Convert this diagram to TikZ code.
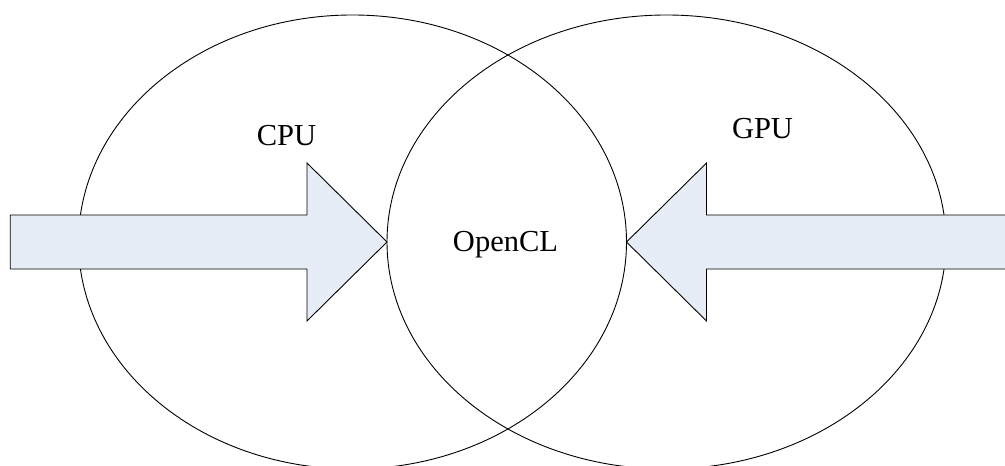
\documentclass[tikz,border=0pt]{standalone}
\usepackage{fontspec}
\setmainfont{Liberation Serif}
\usetikzlibrary{shapes.geometric}
\definecolor{arrowfill}{RGB}{230,237,247}
\begin{document}
\begin{tikzpicture}[x=1bp,y=-1bp,
  set/.style={ellipse, draw=black, line width=0.9bp, inner sep=0pt, outer sep=0pt},
  bigarrow/.style={draw=black, line width=0.9bp, fill=arrowfill, line join=miter},
  settext/.style={font=\fontsize{30.5bp}{36bp}\selectfont, anchor=base, inner sep=0pt}]
\useasboundingbox (0,0) rectangle (1005,466);
% the two overlapping sets
\node[set, minimum width=548bp, minimum height=454bp] (cpu) at (352.5,242) {};
\node[set, minimum width=559bp, minimum height=454bp] (gpu) at (666.5,242) {};
% block arrows pointing into the overlap
\draw[bigarrow] (gpu.west) -- ++(-80,-79) -- ++(0,52) -- ++(-296.7,0) -- ++(0,54)
  -- ++(296.7,0) -- ++(0,52) -- cycle;
\draw[bigarrow] (cpu.east) -- ++(80,-79) -- ++(0,52) -- ++(330,0) -- ++(0,54)
  -- ++(-330,0) -- ++(0,52) -- cycle;
% labels
\node[settext] (cpuname) at (286.5,146) {CPU};
\node[settext] (gpuname) at (762.5,138.3) {GPU};
\node[settext] (opencl) at (505.5,251.7) {OpenCL};
\end{tikzpicture}
\end{document}
